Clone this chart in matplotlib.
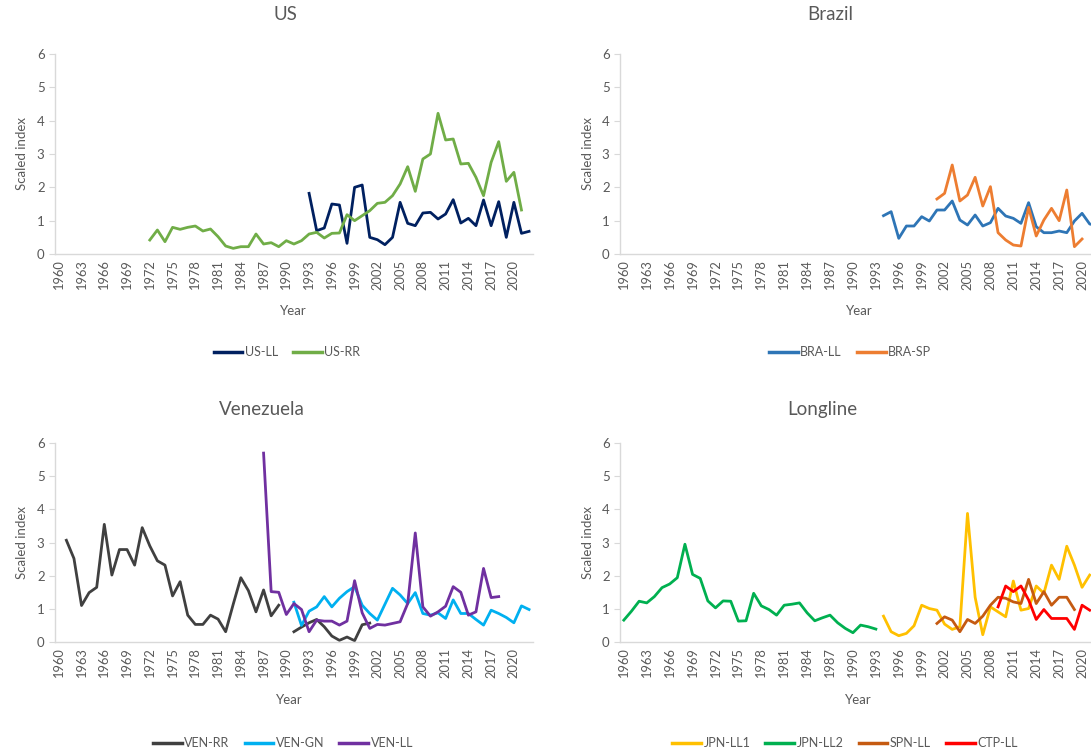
import numpy as np
import matplotlib
matplotlib.use("Agg")
import matplotlib.pyplot as plt

plt.rcParams["font.family"] = ["Lato", "DejaVu Sans"]

nan = np.nan

# US
us_ll_years = list(range(1993, 2023))
us_ll = [1.82, 0.70, 0.78, 1.50, 1.47, 0.32, 2.00, 2.07, 0.50, 0.43,
         0.28, 0.50, 1.55, 0.92, 0.85, 1.23, 1.25, 1.05, 1.20, 1.63,
         0.93, 1.07, 0.85, 1.62, 0.85, 1.57, 0.50, 1.55, 0.62, 0.68]
us_rr_years = list(range(1972, 2022))
us_rr = [0.42, 0.72, 0.37, 0.80, 0.74, 0.80, 0.84, 0.69, 0.75, 0.52,
         0.24, 0.17, 0.22, 0.22, 0.60, 0.30, 0.34, 0.22, 0.40, 0.30,
         0.40, 0.60, 0.65, 0.48, 0.62, 0.63, 1.18, 1.00, 1.15, 1.30,
         1.52, 1.55, 1.75, 2.10, 2.62, 1.88, 2.85, 3.00, 4.22, 3.42,
         3.45, 2.70, 2.72, 2.30, 1.75, 2.75, 3.37, 2.18, 2.45, 1.32]

# Brazil
bra_ll_years = list(range(1994, 2023))
bra_ll = [1.15, 1.27, 0.47, 0.84, 0.84, 1.12, 0.99, 1.32, 1.32, 1.59,
          1.02, 0.87, 1.17, 0.84, 0.94, 1.37, 1.14, 1.07, 0.92, 1.54,
          0.82, 0.64, 0.64, 0.69, 0.64, 0.99, 1.22, 0.90, 0.85]
bra_sp_years = list(range(2001, 2021))
bra_sp = [1.65, 1.82, 2.67, 1.59, 1.77, 2.30, 1.44, 2.02, 0.64, 0.42,
          0.27, 0.24, 1.40, 0.54, 1.02, 1.37, 1.00, 1.92, 0.22, 0.45]

# Venezuela
ven_rr_years = list(range(1961, 2002))
ven_rr = [3.07, 2.52, 1.10, 1.49, 1.65, 3.55, 2.02, 2.79, 2.79, 2.32,
          3.45, 2.90, 2.45, 2.32, 1.39, 1.82, 0.81, 0.53, 0.53, 0.81,
          0.69, 0.31, 1.14, 1.94, 1.55, 0.91, 1.57, 0.79, 1.11, nan,
          0.31, 0.45, 0.58, 0.68, 0.46, 0.18, 0.05, 0.15, 0.04, 0.52, 0.57]
ven_gn_years = list(range(1991, 2023))
ven_gn = [1.20, 0.50, 0.93, 1.06, 1.37, 1.06, 1.32, 1.52, 1.67, 1.11,
          0.86, 0.66, 1.14, 1.62, 1.42, 1.16, 1.49, 0.86, 0.81, 0.88,
          0.71, 1.27, 0.86, 0.86, 0.68, 0.51, 0.96, 0.86, 0.74, 0.58,
          1.09, 0.98]
ven_ll_years = list(range(1987, 2019))
ven_ll = [5.70, 1.52, 1.50, 0.83, 1.16, 0.98, 0.31, 0.66, 0.63, 0.63,
          0.51, 0.63, 1.85, 0.88, 0.41, 0.53, 0.51, 0.56, 0.61, 1.16,
          3.29, 1.06, 0.78, 0.91, 1.08, 1.67, 1.50, 0.81, 0.91, 2.22,
          1.34, 1.37]

# Longline
jpn_ll1_years = list(range(1994, 2022))
jpn_ll1 = [0.78, 0.31, 0.19, 0.26, 0.49, 1.11, 1.01, 0.96, 0.54, 0.38,
           0.46, 3.88, 1.35, 0.22, 1.06, 0.91, 0.76, 1.84, 0.96, 1.01,
           1.69, 1.47, 2.32, 1.89, 2.89, 2.32, 1.65, 2.02]
jpn_ll2_years = list(range(1960, 1994))
jpn_ll2 = [0.66, 0.93, 1.23, 1.18, 1.37, 1.64, 1.75, 1.94, 2.95, 2.04,
           1.92, 1.24, 1.03, 1.24, 1.23, 0.63, 0.64, 1.47, 1.09, 0.98,
           0.81, 1.11, 1.14, 1.18, 0.88, 0.64, 0.73, 0.81, 0.58, 0.41,
           0.28, 0.51, 0.46, 0.39]
spn_ll_years = list(range(2001, 2020))
spn_ll = [0.56, 0.76, 0.66, 0.31, 0.68, 0.56, 0.78, 1.11, 1.35, 1.32,
          1.21, 1.16, 1.89, 1.16, 1.52, 1.11, 1.35, 1.35, 0.98]
ctp_ll_years = list(range(2009, 2022))
ctp_ll = [1.06, 1.69, 1.52, 1.69, 1.27, 0.68, 0.98, 0.71, 0.71, 0.71,
          0.38, 1.11, 0.96]

panels = [
    ("US", [0.0504, 0.664, 0.438, 0.2646], (285, 14), (293, 311), (287, 352),
     [("US-LL", us_ll_years, us_ll, "#002060"),
      ("US-RR", us_rr_years, us_rr, "#70AD47")]),
    ("Brazil", [0.5683, 0.664, 0.441, 0.2646], (830, 14), (859, 311), (850, 352),
     [("BRA-LL", bra_ll_years, bra_ll, "#2E75B6"),
      ("BRA-SP", bra_sp_years, bra_sp, "#ED7D31")]),
    ("Venezuela", [0.0504, 0.1508, 0.438, 0.263], (262, 409), (289, 700), (283, 743),
     [("VEN-RR", ven_rr_years, ven_rr, "#404040"),
      ("VEN-GN", ven_gn_years, ven_gn, "#00B0F0"),
      ("VEN-LL", ven_ll_years, ven_ll, "#7030A0")]),
    ("Longline", [0.5683, 0.1508, 0.441, 0.263], (822, 409), (858, 700), (845, 743),
     [("JPN-LL1", jpn_ll1_years, jpn_ll1, "#FFC000"),
      ("JPN-LL2", jpn_ll2_years, jpn_ll2, "#00B050"),
      ("SPN-LL", spn_ll_years, spn_ll, "#C55A11"),
      ("CTP-LL", ctp_ll_years, ctp_ll, "#FF0000")]),
]

W, H = 1091, 756
text_col = "#595959"
axis_col = "#D9D9D9"

fig = plt.figure(figsize=(W / 100, H / 100), dpi=100)

for title, rect, tpos, xlpos, lgpos, series in panels:
    ax = fig.add_axes(rect)
    for name, yrs, vals, col in series:
        ax.plot(yrs, vals, color=col, lw=2.0, label=name, solid_joinstyle="round")
    ax.set_xlim(1959.5, 2022.5)
    ax.set_ylim(0, 6)
    ax.set_xticks(range(1960, 2023, 3))
    ax.set_xticklabels([str(y) for y in range(1960, 2023, 3)], rotation=90)
    ax.set_yticks(range(0, 7))
    ax.tick_params(axis="x", length=0, labelsize=9.3, colors=text_col, pad=4)
    ax.tick_params(axis="y", length=4, labelsize=9.5, colors=text_col, color=axis_col)
    for s in ["top", "right"]:
        ax.spines[s].set_visible(False)
    for s in ["left", "bottom"]:
        ax.spines[s].set_color(axis_col)
        ax.spines[s].set_linewidth(1.0)
    ax.set_ylabel("Scaled index", fontsize=9.5, color=text_col, labelpad=6)
    fig.text(tpos[0] / W, 1 - tpos[1] / H, title, ha="center", va="center",
             fontsize=13.5, color=text_col)
    fig.text(xlpos[0] / W, 1 - xlpos[1] / H, "Year", ha="center", va="center",
             fontsize=9.5, color=text_col)
    handles, labels = ax.get_legend_handles_labels()
    leg = fig.legend(handles, labels, loc="center", ncol=len(labels), frameon=False,
                     bbox_to_anchor=(lgpos[0] / W, 1 - lgpos[1] / H),
                     fontsize=9, labelcolor=text_col, handlelength=2.3,
                     handletextpad=0.2, columnspacing=1.2)
    for ln in leg.get_lines():
        ln.set_linewidth(2.5)

fig.savefig("out.png", dpi=100)
